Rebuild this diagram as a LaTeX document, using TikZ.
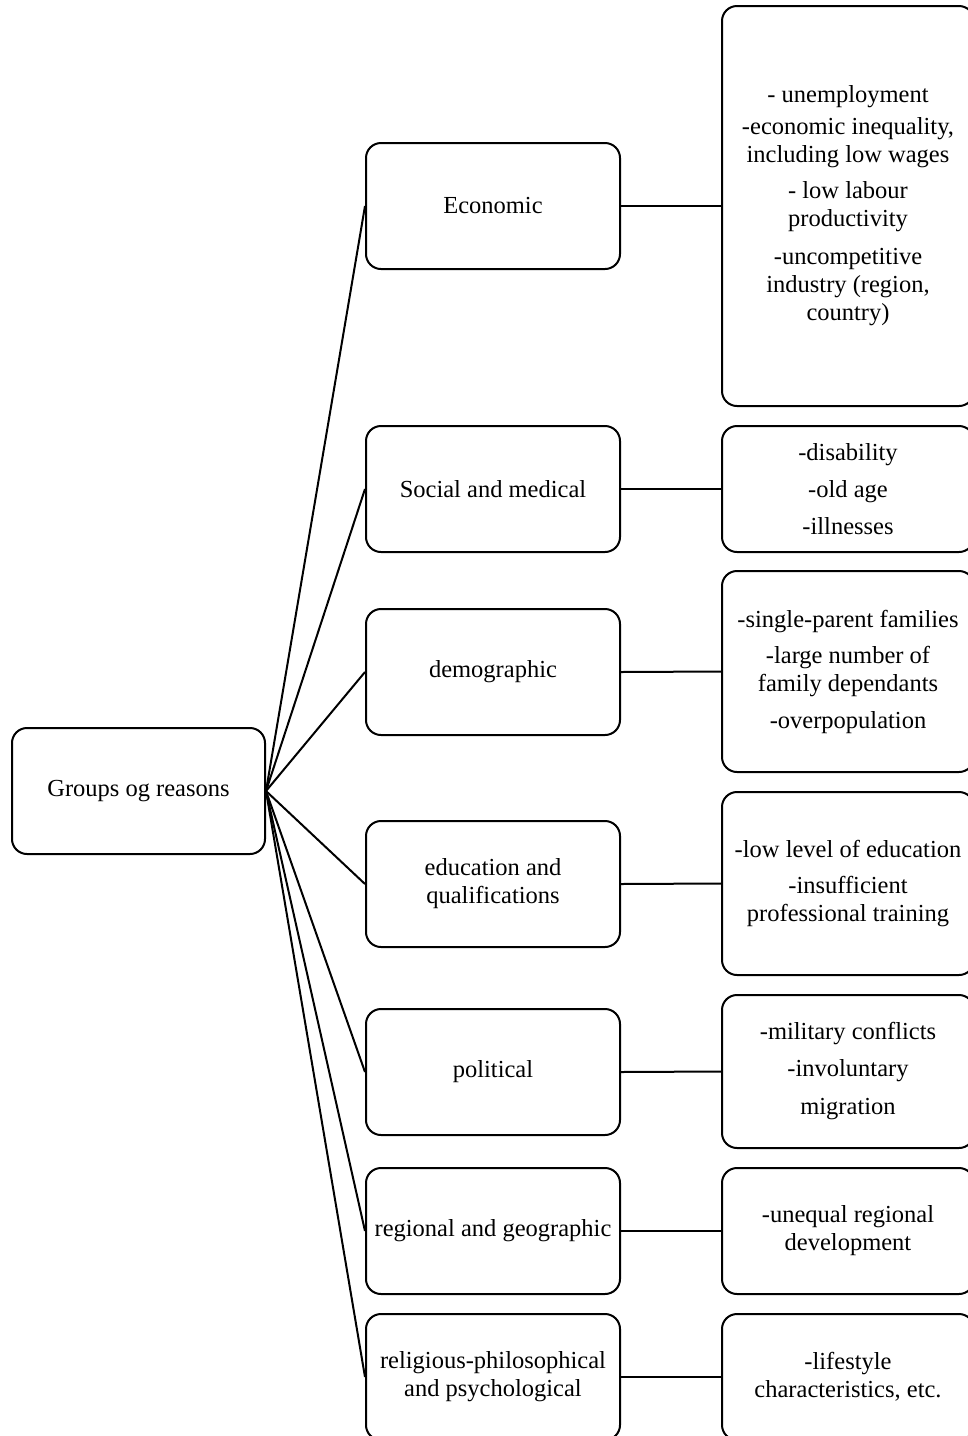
\documentclass[tikz,border=0pt]{standalone}
\usepackage{fontspec}
\setmainfont{Liberation Serif}
\begin{document}
\begin{tikzpicture}[x=1pt,y=-1pt,
  box/.style={draw, line width=2pt, rounded corners=15pt, inner sep=0pt, align=center,
    minimum width=254pt, font=\fontsize{24.5}{28}\selectfont},
  link/.style={line width=2pt}]
\useasboundingbox (0,0) rectangle (968,1436);
\clip (0,0) rectangle (968,1436);
% root
\node[box, minimum width=253pt, minimum height=126pt] (root) at (138.5,791) {Groups og reasons};
% middle column
\node[box, minimum height=126pt] (m1) at (493,206) {Economic};
\node[box, minimum height=126pt] (m2) at (493,489) {Social and medical};
\node[box, minimum height=126pt] (m3) at (493,672) {demographic};
\node[box, minimum height=126pt] (m4) at (493,884) {education and\\ qualifications};
\node[box, minimum height=126pt] (m5) at (493,1072) {political};
\node[box, minimum height=126pt] (m6) at (493,1231) {regional and geographic};
\node[box, minimum height=126pt] (m7) at (493,1377) {religious-philosophical\\ and psychological};
% right column
\node[box, minimum width=252pt, minimum height=400pt] (r1) at (848,206)
  {- unemployment\\[4pt] -economic inequality,\\ including low wages\\[8pt] - low labour\\ productivity\\[10pt] -uncompetitive\\ industry (region,\\ country)};
\node[box, minimum width=252pt, minimum height=126pt] (r2) at (848,489)
  {-disability\\[9pt] -old age\\[9pt] -illnesses};
\node[box, minimum width=252pt, minimum height=201pt] (r3) at (848,671.5)
  {-single-parent families\\[8pt] -large number of\\ family dependants\\[9pt] -overpopulation};
\node[box, minimum width=252pt, minimum height=183pt] (r4) at (848,883.5)
  {-low level of education\\[8pt] -insufficient\\ professional training};
\node[box, minimum width=252pt, minimum height=153pt] (r5) at (848,1071.5)
  {-military conflicts\\[9pt] -involuntary\\[10pt] migration};
\node[box, minimum width=252pt, minimum height=126pt] (r6) at (848,1231)
  {-unequal regional\\ development};
\node[box, minimum width=252pt, minimum height=126pt] (r7) at (848,1377)
  {-lifestyle\\ characteristics, etc.};
% connectors
\foreach \i in {1,...,7} {
  \draw[link] (root.east) -- (m\i.west);
  \draw[link] (m\i.east) -- (r\i.west);
}
\end{tikzpicture}
\end{document}
